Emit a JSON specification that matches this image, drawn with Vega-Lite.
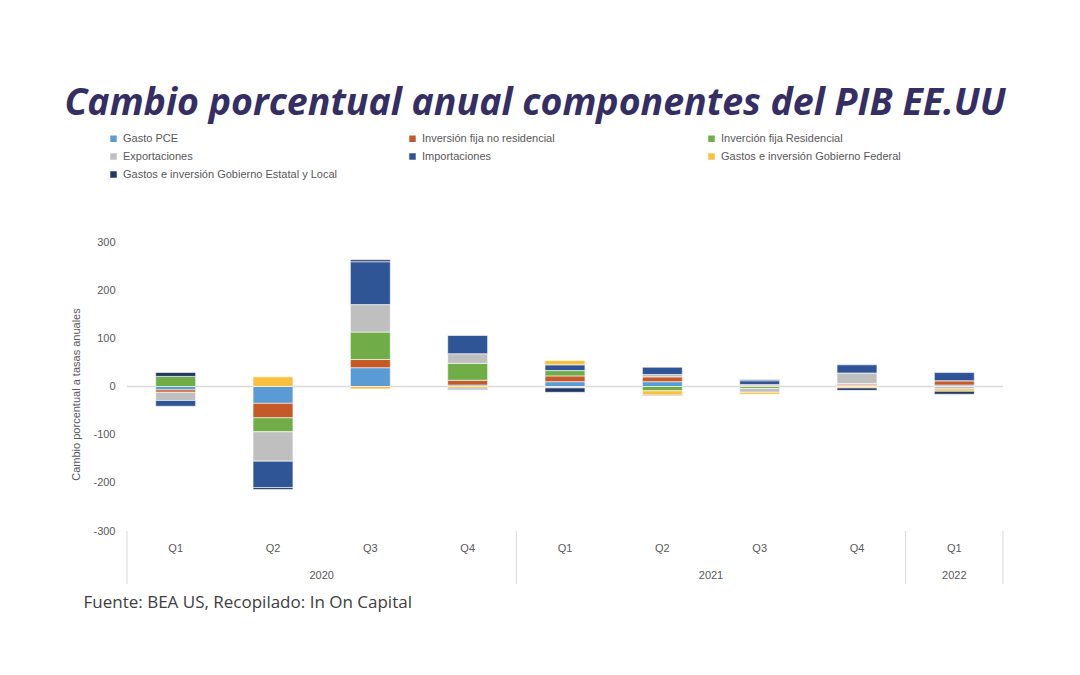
{
  "$schema": "https://vega.github.io/schema/vega-lite/v6.json",
  "width": 876,
  "height": 289,
  "autosize": {"type": "none"},
  "padding": {"left": 127, "top": 242, "right": 77, "bottom": 144},
  "background": "white",
  "title": {
    "text": "Cambio porcentual anual componentes del PIB EE.UU",
    "font": "Open Sans",
    "fontSize": 37.5,
    "fontStyle": "italic",
    "fontWeight": "bold",
    "color": "#342E64",
    "anchor": "middle",
    "dx": -30,
    "dy": -7
  },
  "config": {
    "view": {"stroke": null},
    "font": "Liberation Sans"
  },
  "datasets": {
    "pib": [
      {"periodo": "2020 Q1", "componente": "Gasto PCE", "n": 1, "valor": -7},
      {"periodo": "2020 Q1", "componente": "Inversión fija no residencial", "n": 2, "valor": -5},
      {"periodo": "2020 Q1", "componente": "Inverción fija Residencial", "n": 3, "valor": 21},
      {"periodo": "2020 Q1", "componente": "Exportaciones", "n": 4, "valor": -17},
      {"periodo": "2020 Q1", "componente": "Importaciones", "n": 5, "valor": -12},
      {"periodo": "2020 Q1", "componente": "Gastos e inversión Gobierno Federal", "n": 6, "valor": 0},
      {"periodo": "2020 Q1", "componente": "Gastos e inversión Gobierno Estatal y Local", "n": 7, "valor": 8},
      {"periodo": "2020 Q2", "componente": "Gasto PCE", "n": 1, "valor": -35},
      {"periodo": "2020 Q2", "componente": "Inversión fija no residencial", "n": 2, "valor": -30},
      {"periodo": "2020 Q2", "componente": "Inverción fija Residencial", "n": 3, "valor": -29},
      {"periodo": "2020 Q2", "componente": "Exportaciones", "n": 4, "valor": -61},
      {"periodo": "2020 Q2", "componente": "Importaciones", "n": 5, "valor": -55},
      {"periodo": "2020 Q2", "componente": "Gastos e inversión Gobierno Federal", "n": 6, "valor": 20},
      {"periodo": "2020 Q2", "componente": "Gastos e inversión Gobierno Estatal y Local", "n": 7, "valor": -4},
      {"periodo": "2020 Q3", "componente": "Gasto PCE", "n": 1, "valor": 39},
      {"periodo": "2020 Q3", "componente": "Inversión fija no residencial", "n": 2, "valor": 17},
      {"periodo": "2020 Q3", "componente": "Inverción fija Residencial", "n": 3, "valor": 57},
      {"periodo": "2020 Q3", "componente": "Exportaciones", "n": 4, "valor": 57},
      {"periodo": "2020 Q3", "componente": "Importaciones", "n": 5, "valor": 89},
      {"periodo": "2020 Q3", "componente": "Gastos e inversión Gobierno Federal", "n": 6, "valor": -5},
      {"periodo": "2020 Q3", "componente": "Gastos e inversión Gobierno Estatal y Local", "n": 7, "valor": 4},
      {"periodo": "2020 Q4", "componente": "Gasto PCE", "n": 1, "valor": 3},
      {"periodo": "2020 Q4", "componente": "Inversión fija no residencial", "n": 2, "valor": 10},
      {"periodo": "2020 Q4", "componente": "Inverción fija Residencial", "n": 3, "valor": 35},
      {"periodo": "2020 Q4", "componente": "Exportaciones", "n": 4, "valor": 20},
      {"periodo": "2020 Q4", "componente": "Importaciones", "n": 5, "valor": 38},
      {"periodo": "2020 Q4", "componente": "Gastos e inversión Gobierno Federal", "n": 6, "valor": -4},
      {"periodo": "2020 Q4", "componente": "Gastos e inversión Gobierno Estatal y Local", "n": 7, "valor": -2},
      {"periodo": "2021 Q1", "componente": "Gasto PCE", "n": 1, "valor": 10},
      {"periodo": "2021 Q1", "componente": "Inversión fija no residencial", "n": 2, "valor": 12},
      {"periodo": "2021 Q1", "componente": "Inverción fija Residencial", "n": 3, "valor": 11},
      {"periodo": "2021 Q1", "componente": "Exportaciones", "n": 4, "valor": -3},
      {"periodo": "2021 Q1", "componente": "Importaciones", "n": 5, "valor": 12},
      {"periodo": "2021 Q1", "componente": "Gastos e inversión Gobierno Federal", "n": 6, "valor": 9},
      {"periodo": "2021 Q1", "componente": "Gastos e inversión Gobierno Estatal y Local", "n": 7, "valor": -9},
      {"periodo": "2021 Q2", "componente": "Gasto PCE", "n": 1, "valor": 10},
      {"periodo": "2021 Q2", "componente": "Inversión fija no residencial", "n": 2, "valor": 10},
      {"periodo": "2021 Q2", "componente": "Inverción fija Residencial", "n": 3, "valor": -9},
      {"periodo": "2021 Q2", "componente": "Exportaciones", "n": 4, "valor": 5},
      {"periodo": "2021 Q2", "componente": "Importaciones", "n": 5, "valor": 15},
      {"periodo": "2021 Q2", "componente": "Gastos e inversión Gobierno Federal", "n": 6, "valor": -9},
      {"periodo": "2021 Q2", "componente": "Gastos e inversión Gobierno Estatal y Local", "n": 7, "valor": -1},
      {"periodo": "2021 Q3", "componente": "Gasto PCE", "n": 1, "valor": 2},
      {"periodo": "2021 Q3", "componente": "Inversión fija no residencial", "n": 2, "valor": 2},
      {"periodo": "2021 Q3", "componente": "Inverción fija Residencial", "n": 3, "valor": -4},
      {"periodo": "2021 Q3", "componente": "Exportaciones", "n": 4, "valor": -8},
      {"periodo": "2021 Q3", "componente": "Importaciones", "n": 5, "valor": 8},
      {"periodo": "2021 Q3", "componente": "Gastos e inversión Gobierno Federal", "n": 6, "valor": -4},
      {"periodo": "2021 Q3", "componente": "Gastos e inversión Gobierno Estatal y Local", "n": 7, "valor": 2},
      {"periodo": "2021 Q4", "componente": "Gasto PCE", "n": 1, "valor": 2},
      {"periodo": "2021 Q4", "componente": "Inversión fija no residencial", "n": 2, "valor": 3},
      {"periodo": "2021 Q4", "componente": "Inverción fija Residencial", "n": 3, "valor": 1},
      {"periodo": "2021 Q4", "componente": "Exportaciones", "n": 4, "valor": 22},
      {"periodo": "2021 Q4", "componente": "Importaciones", "n": 5, "valor": 17},
      {"periodo": "2021 Q4", "componente": "Gastos e inversión Gobierno Federal", "n": 6, "valor": -3},
      {"periodo": "2021 Q4", "componente": "Gastos e inversión Gobierno Estatal y Local", "n": 7, "valor": -5},
      {"periodo": "2022 Q1", "componente": "Gasto PCE", "n": 1, "valor": 3},
      {"periodo": "2022 Q1", "componente": "Inversión fija no residencial", "n": 2, "valor": 9},
      {"periodo": "2022 Q1", "componente": "Inverción fija Residencial", "n": 3, "valor": 0},
      {"periodo": "2022 Q1", "componente": "Exportaciones", "n": 4, "valor": -5},
      {"periodo": "2022 Q1", "componente": "Importaciones", "n": 5, "valor": 17},
      {"periodo": "2022 Q1", "componente": "Gastos e inversión Gobierno Federal", "n": 6, "valor": -5},
      {"periodo": "2022 Q1", "componente": "Gastos e inversión Gobierno Estatal y Local", "n": 7, "valor": -6}
    ],
    "anios": [
      {"anio": "2020", "inicio": "2020 Q1", "fin": "2020 Q4", "centro": "2020 Q2", "posicion": "entre"},
      {"anio": "2021", "inicio": "2021 Q1", "fin": "2021 Q4", "centro": "2021 Q2", "posicion": "entre"},
      {"anio": "2022", "inicio": "2022 Q1", "fin": "2022 Q1", "centro": "2022 Q1", "posicion": "medio"}
    ]
  },
  "layer": [
    {
      "data": {"values": [{}]},
      "mark": {"type": "rule", "color": "#D9D9D9", "strokeWidth": 1.5},
      "encoding": {"y": {"datum": 0, "type": "quantitative"}}
    },
    {
      "data": {"name": "pib"},
      "mark": {"type": "bar", "width": {"band": 0.41}, "stroke": "white", "strokeWidth": 0.6},
      "encoding": {
        "x": {
          "field": "periodo",
          "type": "ordinal",
          "scale": {
            "domain": ["2020 Q1", "2020 Q2", "2020 Q3", "2020 Q4", "2021 Q1", "2021 Q2", "2021 Q3", "2021 Q4", "2022 Q1"],
            "paddingInner": 0,
            "paddingOuter": 0
          },
          "axis": {
            "labelExpr": "split(datum.value, ' ')[1]",
            "labelAngle": 0,
            "labelFontSize": 11,
            "labelColor": "#595959",
            "labelPadding": 11,
            "domain": false,
            "ticks": false,
            "grid": false,
            "title": "Fuente: BEA US, Recopilado: In On Capital",
            "titleFont": "Open Sans",
            "titleFontSize": 17,
            "titleFontWeight": "normal",
            "titleColor": "#404040",
            "titleAnchor": "start",
            "titleAlign": "left",
            "titleBaseline": "middle",
            "titleX": -44,
            "titleY": 71
          }
        },
        "y": {
          "field": "valor",
          "type": "quantitative",
          "stack": "zero",
          "scale": {"domain": [-300, 300], "nice": false},
          "axis": {
            "values": [-300, -200, -100, 0, 100, 200, 300],
            "labelExpr": "datum.value + ''",
            "labelFontSize": 11,
            "labelColor": "#595959",
            "labelPadding": 12,
            "domain": false,
            "ticks": false,
            "grid": false,
            "title": "Cambio porcentual a tasas anuales",
            "titleFontSize": 11,
            "titleFontWeight": "normal",
            "titleColor": "#595959",
            "titleX": -46,
            "titleY": 152
          }
        },
        "color": {
          "field": "componente",
          "type": "nominal",
          "scale": {
            "domain": ["Gasto PCE", "Inversión fija no residencial", "Inverción fija Residencial", "Exportaciones", "Importaciones", "Gastos e inversión Gobierno Federal", "Gastos e inversión Gobierno Estatal y Local"],
            "range": ["#5B9BD5", "#C55A28", "#70AD47", "#BFBFBF", "#2F5597", "#F9C040", "#1F3864"]
          },
          "legend": {
            "orient": "none",
            "direction": "horizontal",
            "legendX": -19,
            "legendY": -109,
            "columns": 3,
            "gridAlign": "all",
            "columnPadding": 69,
            "rowPadding": 6,
            "symbolType": "square",
            "symbolSize": 42,
            "symbolStrokeWidth": 0,
            "labelFontSize": 11,
            "labelColor": "#595959",
            "labelOffset": 4,
            "labelLimit": 320,
            "title": null
          }
        },
        "order": {"field": "n", "type": "quantitative"}
      }
    },
    {
      "data": {"name": "anios"},
      "mark": {"type": "rule", "color": "#D9D9D9", "strokeWidth": 1},
      "encoding": {
        "x": {"field": "inicio", "type": "ordinal", "bandPosition": 0},
        "y": {"datum": -300, "type": "quantitative"},
        "y2": {"datum": -410}
      }
    },
    {
      "data": {"name": "anios"},
      "transform": [{"filter": "datum.anio == '2022'"}],
      "mark": {"type": "rule", "color": "#D9D9D9", "strokeWidth": 1},
      "encoding": {
        "x": {"field": "fin", "type": "ordinal", "bandPosition": 1},
        "y": {"datum": -300, "type": "quantitative"},
        "y2": {"datum": -410}
      }
    },
    {
      "data": {"name": "anios"},
      "transform": [{"filter": "datum.posicion == 'entre'"}],
      "mark": {"type": "text", "fontSize": 11, "color": "#595959", "dy": 45, "baseline": "middle"},
      "encoding": {
        "x": {"field": "centro", "type": "ordinal", "bandPosition": 1},
        "y": {"datum": -300, "type": "quantitative"},
        "text": {"field": "anio"}
      }
    },
    {
      "data": {"name": "anios"},
      "transform": [{"filter": "datum.posicion == 'medio'"}],
      "mark": {"type": "text", "fontSize": 11, "color": "#595959", "dy": 45, "baseline": "middle"},
      "encoding": {
        "x": {"field": "centro", "type": "ordinal", "bandPosition": 0.5},
        "y": {"datum": -300, "type": "quantitative"},
        "text": {"field": "anio"}
      }
    }
  ]
}
